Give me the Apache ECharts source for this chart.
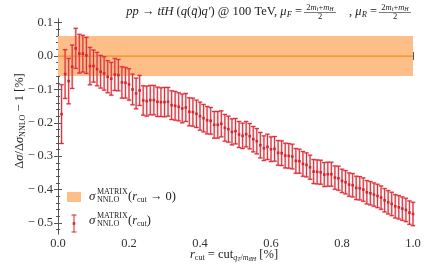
<!DOCTYPE html>
<html><head><meta charset="utf-8">
<script src="https://cdn.jsdelivr.net/npm/echarts@6/dist/echarts.min.js"></script>
<style>html,body{margin:0;padding:0;background:#fff}#c{width:445px;height:267px}</style>
</head><body><div id="c"></div>
<script>
// ---- data ----
var rCut = [0.01,0.02,0.03,0.04,0.05,0.06,0.07,0.08,0.09,0.10,
0.11,0.12,0.13,0.14,0.15,0.16,0.17,0.18,0.19,0.20,
0.21,0.22,0.23,0.24,0.25,0.26,0.27,0.28,0.29,0.30,
0.31,0.32,0.33,0.34,0.35,0.36,0.37,0.38,0.39,0.40,
0.41,0.42,0.43,0.44,0.45,0.46,0.47,0.48,0.49,0.50,
0.51,0.52,0.53,0.54,0.55,0.56,0.57,0.58,0.59,0.60,
0.61,0.62,0.63,0.64,0.65,0.66,0.67,0.68,0.69,0.70,
0.71,0.72,0.73,0.74,0.75,0.76,0.77,0.78,0.79,0.80,
0.81,0.82,0.83,0.84,0.85,0.86,0.87,0.88,0.89,0.90,
0.91,0.92,0.93,0.94,0.95,0.96,0.97,0.98,0.99,1.00];
var deltaVals = [-0.174,-0.054,-0.075,-0.032,0.023,0.007,0.007,0.002,-0.030,-0.030,
-0.039,-0.047,-0.052,-0.062,-0.068,-0.055,-0.057,-0.079,-0.080,-0.085,
-0.100,-0.112,-0.103,-0.133,-0.135,-0.132,-0.132,-0.137,-0.138,-0.138,
-0.137,-0.147,-0.149,-0.152,-0.157,-0.154,-0.167,-0.168,-0.173,-0.180,
-0.186,-0.192,-0.194,-0.206,-0.206,-0.203,-0.215,-0.219,-0.227,-0.225,
-0.235,-0.239,-0.234,-0.240,-0.249,-0.255,-0.267,-0.276,-0.272,-0.279,
-0.278,-0.290,-0.291,-0.298,-0.299,-0.301,-0.314,-0.315,-0.323,-0.326,
-0.333,-0.346,-0.347,-0.348,-0.355,-0.354,-0.354,-0.364,-0.366,-0.374,
-0.378,-0.385,-0.387,-0.395,-0.396,-0.400,-0.408,-0.411,-0.415,-0.419,
-0.424,-0.432,-0.438,-0.443,-0.450,-0.453,-0.457,-0.461,-0.469,-0.473];
var errVals = [0.088,0.073,0.068,0.065,0.060,0.058,0.055,0.054,0.056,0.048,
0.050,0.049,0.050,0.048,0.049,0.048,0.047,0.047,0.046,0.047,
0.046,0.046,0.045,0.044,0.045,0.044,0.044,0.044,0.043,0.044,
0.043,0.043,0.043,0.042,0.043,0.042,0.042,0.042,0.041,0.042,
0.041,0.041,0.040,0.040,0.040,0.039,0.040,0.039,0.039,0.038,
0.039,0.038,0.038,0.038,0.038,0.038,0.038,0.037,0.038,0.037,
0.037,0.037,0.037,0.037,0.037,0.037,0.037,0.036,0.037,0.036,
0.036,0.036,0.036,0.036,0.036,0.036,0.036,0.035,0.036,0.035,
0.035,0.035,0.035,0.035,0.035,0.035,0.035,0.035,0.035,0.035,
0.035,0.035,0.035,0.035,0.035,0.035,0.035,0.035,0.035,0.035];
var bandCentral = [0.0];
var bandLow = [-0.06];
var bandHigh = [0.06];
var xTicks = [0.0,0.2,0.4,0.6,0.8,1.0];
var xMinorTicks = [0.1,0.3,0.5,0.7,0.9];
var yTicks = [-0.5,-0.4,-0.3,-0.2,-0.1,0.0,0.1];
var yMinorTicks = [-0.52,-0.48,-0.46,-0.44,-0.42,-0.38,-0.36,-0.34,-0.32,-0.28,-0.26,-0.24,-0.22,
-0.18,-0.16,-0.14,-0.12,-0.08,-0.06,-0.04,-0.02,0.02,0.04,0.06,0.08];

// ---- chart ----
var SERIF = 'Liberation Serif';
var AX = '#555';
var RED = '#d8242c';
var chart = echarts.init(document.getElementById('c'), null, {renderer:'canvas'});
var X0 = 0, X1 = 1, Y0 = -0.533, Y1 = 0.111;
function fmt(v){ return '{t|' + (v < 0 ? '\u2212\u2009' : '') + Math.abs(v).toFixed(1) + '}'; }
var tickRich = {t:{fontFamily:SERIF, fontSize:12.5, color:'#333'}};
function mkX(pos, ticks, len, labels){
  return {type:'value', min:X0, max:X1, position:pos,
    axisLine:{show:labels!==null, lineStyle:{color:AX, width:1}},
    splitLine:{show:false},
    axisTick:{show:true, inside:true, length:len, customValues:ticks, lineStyle:{color:AX}},
    axisLabel:{show:!!labels, customValues:ticks, formatter:fmt, rich:tickRich, fontFamily:SERIF, fontSize:12.5, color:'#333', margin:3}};
}
function mkY(pos, ticks, len, labels){
  return {type:'value', min:Y0, max:Y1, position:pos,
    axisLine:{show:labels!==null, lineStyle:{color:AX, width:1}},
    splitLine:{show:false},
    axisTick:{show:true, inside:true, length:len, customValues:ticks, lineStyle:{color:AX}},
    axisLabel:{show:!!labels, customValues:ticks, formatter:fmt, rich:tickRich, fontFamily:SERIF, fontSize:12.5, color:'#333', margin:5}};
}
var errData = rCut.map(function(x,i){ return [x, deltaVals[i], errVals[i]]; });
var bandData = bandCentral.map(function(c,i){ return [bandLow[i], bandHigh[i], c]; });

var option = {
  animation:false,
  textStyle:{fontFamily:SERIF},
  grid:{left:58, top:19, width:355, height:215},
  xAxis:[mkX('bottom', xTicks, 4, true), mkX('bottom', xMinorTicks, 2, null),
         mkX('top', xTicks, 4, false), mkX('top', xMinorTicks, 2, null)],
  yAxis:[mkY('left', yTicks, 4, true), mkY('left', yMinorTicks, 2, null),
         mkY('right', yTicks, 4, false), mkY('right', yMinorTicks, 2, null)],
  series:[
    {type:'custom', xAxisIndex:0, yAxisIndex:0, data:bandData, z:1,
     renderItem:function(params, api){
       var lo = api.value(0), hi = api.value(1), c = api.value(2);
       var a = api.coord([X0, hi]), b = api.coord([X1, lo]), m = api.coord([X0, c]);
       return {type:'group', children:[
         {type:'rect', shape:{x:a[0], y:a[1], width:b[0]-a[0], height:b[1]-a[1]}, style:{fill:'#fdbe87'}},
         {type:'line', shape:{x1:a[0], y1:m[1], x2:b[0], y2:m[1]}, style:{stroke:'#f98a1e', lineWidth:1.2}}
       ]};
     }},
    {type:'custom', xAxisIndex:0, yAxisIndex:0, data:errData, z:3,
     renderItem:function(params, api){
       var x = api.value(0), y = api.value(1), e = api.value(2);
       var p = api.coord([x, y]), t = api.coord([x, y+e]), b = api.coord([x, y-e]);
       var cw = 2.2;
       var halo = 'rgba(232,110,120,0.55)';
       return {type:'group', children:[
         {type:'line', shape:{x1:p[0],y1:t[1],x2:p[0],y2:b[1]}, style:{stroke:halo, lineWidth:2}},
         {type:'line', shape:{x1:p[0]-cw,y1:t[1],x2:p[0]+cw,y2:t[1]}, style:{stroke:halo, lineWidth:2}},
         {type:'line', shape:{x1:p[0]-cw,y1:b[1],x2:p[0]+cw,y2:b[1]}, style:{stroke:halo, lineWidth:2}},
         {type:'line', shape:{x1:p[0],y1:t[1],x2:p[0],y2:b[1]}, style:{stroke:RED, lineWidth:0.9}},
         {type:'line', shape:{x1:p[0]-cw,y1:t[1],x2:p[0]+cw,y2:t[1]}, style:{stroke:RED, lineWidth:0.9}},
         {type:'line', shape:{x1:p[0]-cw,y1:b[1],x2:p[0]+cw,y2:b[1]}, style:{stroke:RED, lineWidth:0.9}},
         {type:'rect', shape:{x:p[0]-1.3,y:p[1]-1.3,width:2.6,height:2.6}, style:{fill:RED}}
       ]};
     }}
  ],
  graphic:[
    // title
    {type:'text', x:302, y:12, style:{text:'{i|pp} → {i|tt̄H} ({i|q}({i|q̄}){i|q′}) @ 100 TeV, {i|μ}{s|F} =', align:'right', verticalAlign:'middle',
      font:'12.5px '+SERIF, fill:'#222', rich:{i:{fontStyle:'italic', fontFamily:SERIF, fontSize:12.5}, s:{fontStyle:'italic', fontFamily:SERIF, fontSize:8.5, verticalAlign:'bottom', padding:[6,0,0,0]}}}},
    {type:'text', x:320, y:8, style:{text:'2{i|m}{s|t}+{i|m}{s|H}', align:'center', verticalAlign:'middle', font:'8.5px '+SERIF, fill:'#222',
      rich:{i:{fontStyle:'italic', fontFamily:SERIF, fontSize:8.5}, s:{fontStyle:'italic', fontFamily:SERIF, fontSize:6, padding:[3,0,0,0]}}}},
    {type:'line', shape:{x1:304, y1:12.5, x2:336, y2:12.5}, style:{stroke:'#222', lineWidth:0.6}},
    {type:'text', x:320, y:16.5, style:{text:'2', align:'center', verticalAlign:'middle', font:'8.5px '+SERIF, fill:'#222'}},
    {type:'text', x:377, y:12, style:{text:', {i|μ}{s|R} =', align:'right', verticalAlign:'middle',
      font:'12.5px '+SERIF, fill:'#222', rich:{i:{fontStyle:'italic', fontFamily:SERIF, fontSize:12.5}, s:{fontStyle:'italic', fontFamily:SERIF, fontSize:8.5, padding:[6,0,0,0]}}}},
    {type:'text', x:395, y:8, style:{text:'2{i|m}{s|t}+{i|m}{s|H}', align:'center', verticalAlign:'middle', font:'8.5px '+SERIF, fill:'#222',
      rich:{i:{fontStyle:'italic', fontFamily:SERIF, fontSize:8.5}, s:{fontStyle:'italic', fontFamily:SERIF, fontSize:6, padding:[3,0,0,0]}}}},
    {type:'line', shape:{x1:379, y1:12.5, x2:411, y2:12.5}, style:{stroke:'#222', lineWidth:0.6}},
    {type:'text', x:395, y:16.5, style:{text:'2', align:'center', verticalAlign:'middle', font:'8.5px '+SERIF, fill:'#222'}},
    // y axis name
    {type:'text', x:20, y:121, rotation:Math.PI/2, style:{text:'Δ{i|σ}/Δ{i|σ}{s|NNLO} − 1 [%]', align:'center', verticalAlign:'middle',
      font:'12.5px '+SERIF, fill:'#222', rich:{i:{fontStyle:'italic', fontFamily:SERIF, fontSize:12.5}, s:{fontFamily:SERIF, fontSize:8, padding:[6,0,0,0]}}}},
    // x axis name
    {type:'text', x:234, y:255, style:{text:'{i|r}{s|cut} = cut{s|}{si|q}{ss|T}{s|/}{si|m}{ss|tt̄H} [%]', align:'center', verticalAlign:'middle',
      font:'12.5px '+SERIF, fill:'#222', rich:{i:{fontStyle:'italic', fontFamily:SERIF, fontSize:12.5}, s:{fontFamily:SERIF, fontSize:8, padding:[6,0,0,0]},
      si:{fontStyle:'italic', fontFamily:SERIF, fontSize:8, padding:[6,0,0,0]}, ss:{fontStyle:'italic', fontFamily:SERIF, fontSize:6, padding:[9,0,0,0]}}}},
    // legend
    {type:'rect', shape:{x:67, y:192, width:14, height:10}, style:{fill:'#fdbe87'}},
    {type:'text', x:89, y:197, style:{text:'σ', align:'left', verticalAlign:'middle', font:'italic 13px '+SERIF, fill:'#222'}},
    {type:'text', x:97, y:192, style:{text:'MATRIX', align:'left', verticalAlign:'middle', font:'8px '+SERIF, fill:'#222'}},
    {type:'text', x:97, y:200, style:{text:'NNLO', align:'left', verticalAlign:'middle', font:'8px '+SERIF, fill:'#222'}},
    {type:'text', x:128, y:197, style:{text:'({i|r}{s|cut} → 0)', align:'left', verticalAlign:'middle', font:'12.5px '+SERIF, fill:'#222',
      rich:{i:{fontStyle:'italic', fontFamily:SERIF, fontSize:12.5}, s:{fontFamily:SERIF, fontSize:8, padding:[6,0,0,0]}}}},
    {type:'line', shape:{x1:74, y1:215, x2:74, y2:232}, style:{stroke:RED, lineWidth:1}},
    {type:'line', shape:{x1:71.5, y1:215, x2:76.5, y2:215}, style:{stroke:RED, lineWidth:1}},
    {type:'line', shape:{x1:71.5, y1:232, x2:76.5, y2:232}, style:{stroke:RED, lineWidth:1}},
    {type:'rect', shape:{x:72.7, y:222.2, width:2.6, height:2.6}, style:{fill:RED}},
    {type:'text', x:89, y:221, style:{text:'σ', align:'left', verticalAlign:'middle', font:'italic 13px '+SERIF, fill:'#222'}},
    {type:'text', x:97, y:216, style:{text:'MATRIX', align:'left', verticalAlign:'middle', font:'8px '+SERIF, fill:'#222'}},
    {type:'text', x:97, y:224, style:{text:'NNLO', align:'left', verticalAlign:'middle', font:'8px '+SERIF, fill:'#222'}},
    {type:'text', x:128, y:221, style:{text:'({i|r}{s|cut})', align:'left', verticalAlign:'middle', font:'12.5px '+SERIF, fill:'#222',
      rich:{i:{fontStyle:'italic', fontFamily:SERIF, fontSize:12.5}, s:{fontFamily:SERIF, fontSize:8, padding:[6,0,0,0]}}}}
  ]
};
chart.setOption(option);
</script></body></html>
